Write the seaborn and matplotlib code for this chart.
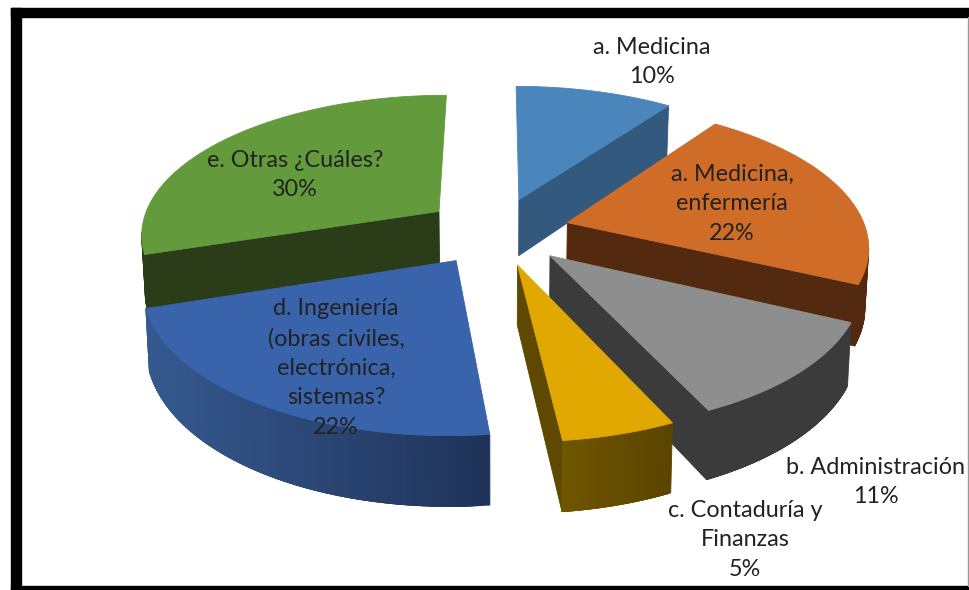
import numpy as np
import matplotlib
matplotlib.use('Agg')
import matplotlib.pyplot as plt
import seaborn as sns

# data
labels = ['a. Medicina\n10%', 'a. Medicina,\nenfermería\n22%',
          'b. Administración\n11%', 'c. Contaduría y\nFinanzas\n5%',
          'd. Ingeniería\n(obras civiles,\nelectrónica,\nsistemas?\n22%',
          'e. Otras ¿Cuáles?\n30%']
values = [10, 22, 11.1, 5.1, 21.8, 30]
top_colors = ['#4a86bb', '#cf6c28', '#8e8e8e', '#e0a800', '#3963aa', '#629a3c']
wall_left = ['#33597f', '#532a0f', '#3b3b3b', '#705600', '#35598f', '#2a3c18']
wall_right = ['#33597f', '#532a0f', '#3b3b3b', '#5a4400', '#1f3359', '#2a3c18']
radial_colors = ['#33597f', '#532a0f', '#3b3b3b', '#5f4800', '#1f3359', '#2a3c18']
label_x = [652, 732, 876, 745, 336, 295]
label_y = [62, 204, 482, 540, 368, 175]
draw_order = [5, 0, 1, 4, 2, 3]

# projection settings
cx, cy = 497, 231
rx, ry = 299, 139
persp = 0.15
explode = 0.245
depth = 58
shrink = 0.99


def project(u, v, low=False):
    s = 1 / (1 + persp * v)
    x = rx * u * s
    y = cy - ry * v * s
    if low:
        return cx + x * shrink, y + depth * s
    return cx + x, y


sns.set_theme(style='white')
plt.rcParams['font.family'] = ['Lato', 'DejaVu Sans']

fig = plt.figure(figsize=(9.69, 5.90), dpi=100)
ax = fig.add_axes([0, 0, 1, 1])
ax.set_xlim(0, 969)
ax.set_ylim(590, 0)
ax.axis('off')

edges = np.radians(np.cumsum([0] + values) / np.sum(values) * 360)


def quad(x0, y0, x1, y1, x2, y2, x3, y3, color):
    ax.fill([x0, x1, x2, x3], [y0, y1, y2, y3], color=color, lw=0.6, zorder=2)


for i in draw_order:
    t0, t1 = edges[i], edges[i + 1]
    mid = (t0 + t1) / 2
    ou, ov = explode * np.sin(mid), explode * np.cos(mid)
    t = np.linspace(t0, t1, 60)
    u = ou + np.sin(t)
    v = ov + np.cos(t)
    tx, ty = project(u, v)
    lx, ly = project(u, v, low=True)
    ax_, ay_ = project(ou, ov)
    bx_, by_ = project(ou, ov, low=True)

    # radial walls, only the ones that face us and are more than a sliver
    if tx[0] < ax_ - 10:
        quad(ax_, ay_, tx[0], ty[0], lx[0], ly[0], bx_, by_, radial_colors[i])
    if tx[-1] > ax_ + 10:
        quad(ax_, ay_, tx[-1], ty[-1], lx[-1], ly[-1], bx_, by_, radial_colors[i])

    # outer wall, shaded from left to right; strips overlap so no seams show
    shades = sns.blend_palette([wall_left[i], wall_right[i]], 40)
    xmin, xmax = tx.min(), tx.max()
    for j in range(len(t) - 1):
        if tx[j + 1] < tx[j]:
            k = int(39 * (tx[j] - xmin) / max(xmax - xmin, 1))
            n = min(j + 3, len(t) - 1)
            if tx[n] >= tx[j + 1]:
                n = j + 1
            quad(tx[j], ty[j], tx[n], ty[n], lx[n], ly[n], lx[j], ly[j], shades[k])

    # top face
    ax.fill(np.r_[ax_, tx], np.r_[ay_, ty], color=top_colors[i], lw=0.6, zorder=2)

for i in range(len(labels)):
    ax.text(label_x[i], label_y[i], labels[i], ha='center', va='center', fontsize=16.8,
            color='#222222', linespacing=1.5, zorder=5)

# black frame of the screenshot
ax.fill([11, 21, 21, 11], [8, 8, 590, 590], color='black', zorder=6)
ax.fill([11, 969, 969, 11], [8, 8, 17, 17], color='black', zorder=6)
ax.fill([11, 969, 969, 11], [586, 586, 590, 590], color='black', zorder=6)
ax.plot([968, 968], [17, 586], color='#999999', lw=1, zorder=6)

fig.savefig('out.png', dpi=100)
